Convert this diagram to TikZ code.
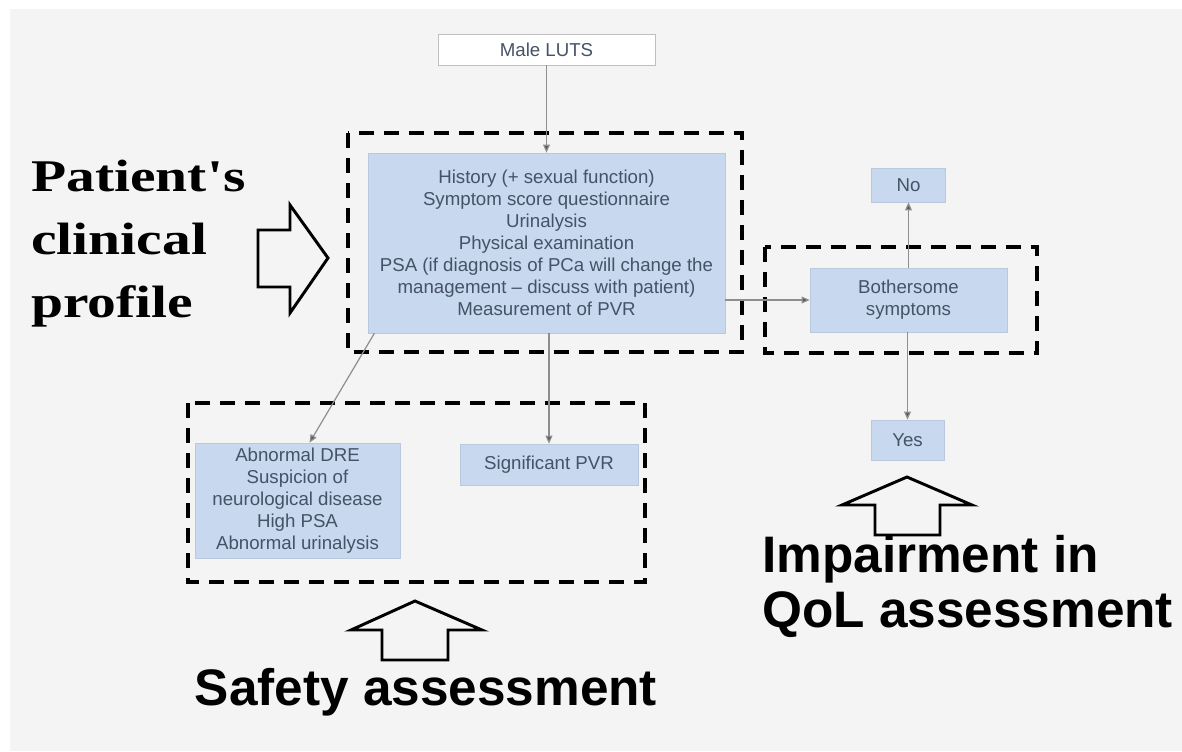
\documentclass[tikz,border=0pt]{standalone}
\usepackage{fontspec}
\setmainfont{Liberation Sans}
\newfontfamily\titleserif[FakeStretch=1.27]{Liberation Serif}
\usepackage{xcolor}
\usetikzlibrary{positioning, arrows.meta, calc}

\definecolor{bggray}{HTML}{F4F4F4}
\definecolor{boxblue}{HTML}{C8D8EE}
\definecolor{boxline}{HTML}{B9C8DC}
\definecolor{boxtext}{HTML}{465266}
\definecolor{edgegray}{HTML}{8E8E8E}

\tikzset{
  stepbox/.style={draw=boxline, fill=boxblue, text=boxtext, align=center,
    font=\fontsize{14pt}{16.5pt}\selectfont, inner sep=0pt},
  edge/.style={draw=edgegray, line width=0.9pt, -{Triangle[length=6pt,width=5pt,fill=black!65]}},
  groupbox/.style={draw=black, line width=3pt, dash pattern=on 11.25pt off 7.5pt},
  blockarrow/.style={draw=black, line width=2.2pt, fill=bggray, line join=miter},
  biglabel/.style={font=\fontsize{38.5pt}{42pt}\selectfont\bfseries, inner sep=0pt}
}

\begin{document}
\begin{tikzpicture}
              [x=0.75pt, y=-0.75pt]
              \useasboundingbox (0,0) rectangle (1182,751);
              \fill[bggray] (10,9) rectangle (1182,751);

              % nodes %
              \node[stepbox, draw=black!25, fill=white, minimum width=162.75pt, minimum height=23.25pt] (luts) at (546.5,49.5) {Male LUTS};
              \node[stepbox, minimum width=267.75pt, minimum height=135pt] (main) at (546.5,243)
                {History (+ sexual function)\\Symptom score questionnaire\\Urinalysis\\Physical examination\\PSA (if diagnosis of PCa will change the\\management -- discuss with patient)\\Measurement of PVR};
              \node[stepbox, minimum width=147.75pt, minimum height=48pt] (bother) at (908.5,300) {Bothersome\\symptoms};
              \node[stepbox, minimum width=55.5pt, minimum height=25.5pt] (no) at (908.5,185) {No};
              \node[stepbox, minimum width=54.75pt, minimum height=30pt] (yes) at (907.5,440) {Yes};
              \node[stepbox, minimum width=153.75pt, minimum height=86.25pt] (dre) at (297.5,500.5)
                {Abnormal DRE\\Suspicion of\\neurological disease\\High PSA\\Abnormal urinalysis};
              \node[stepbox, minimum width=133.5pt, minimum height=30.75pt] (pvr) at (549,464.5) {Significant PVR};

              % groups %
              \draw[groupbox] (348,133) rectangle (742,352);
              \draw[groupbox] (765,247) rectangle (1037,353);
              \draw[groupbox] (188,403) rectangle (645,582);

              % labels %
              \node[biglabel, font=\fontsize{34pt}{47pt}\selectfont\titleserif\bfseries, align=left, anchor=north west] (profile) at (31,160)
                {Patient's\\clinical\\profile};
              \node[biglabel, anchor=base] (safety) at (426,705) {Safety assessment};
              \node[biglabel, anchor=base west] (impair) at (762,572) {Impairment in};
              \node[biglabel, anchor=base west] (qol) at (762,627) {QoL assessment};

              % block arrows %
              \draw[blockarrow] (258,230) -- (290,230) -- (290,205) -- (328,258) -- (290,313) -- (290,287) -- (258,287) -- cycle;
              \draw[blockarrow] (382,660) -- (382,630) -- (351,630) -- (415,601) -- (482,630) -- (448,630) -- (448,660) -- cycle;
              \draw[blockarrow] (875,535) -- (875,505) -- (842,505) -- (907,477) -- (972,505) -- (940,505) -- (940,535) -- cycle;

              % edges %
              \draw[edge] (luts) -- (main);
              \draw[edge] (main.east |- bother) -- (bother);
              \draw[edge] (bother) -- (no);
              \draw[edge] (bother.south -| yes) -- (yes);
              \draw[edge] (main.south -| pvr) -- (pvr);
              \draw[edge] ([xshift=5pt]main.south west) -- ([xshift=9pt]dre.north);
            \end{tikzpicture}
\end{document}
